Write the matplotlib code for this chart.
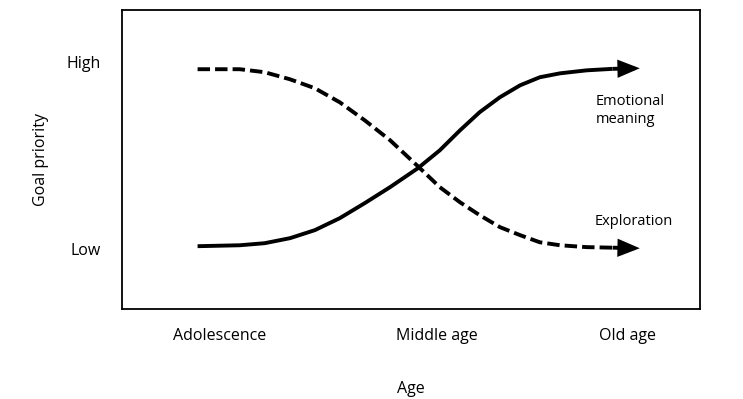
import matplotlib.pyplot as plt

plt.rcParams['font.family'] = ['Open Sans', 'DejaVu Sans']

# conceptual axes: x on a 0-10 lifespan scale, y with Low=0 and High=1
age_labels = ["Adolescence", "Middle age", "Old age"]
age_ticks = [1.7, 5.45, 8.75]
priority_labels = ["Low", "High"]
priority_ticks = [0, 1]

x_pts = [1.31, 2.04, 2.47, 2.91, 3.34, 3.77, 4.20, 4.64, 5.12, 5.50,
         5.85, 6.19, 6.54, 6.89, 7.23, 7.58, 8.04, 8.49, 8.96]
emotional = [0.016, 0.021, 0.032, 0.059, 0.102, 0.166, 0.246, 0.332, 0.433, 0.529,
             0.636, 0.733, 0.813, 0.877, 0.920, 0.941, 0.957, 0.965, 0.968]
exploration = [0.963, 0.963, 0.947, 0.909, 0.861, 0.786, 0.690, 0.583, 0.444, 0.332,
               0.251, 0.182, 0.118, 0.075, 0.037, 0.021, 0.011, 0.008, 0.005]

fig = plt.figure(figsize=(7.43, 3.99), dpi=100)
ax = fig.add_axes([0.164, 0.2256, 0.778, 0.7494])

lw = 2.8
ax.plot(x_pts[:-1], emotional[:-1], color='black', lw=lw,
        solid_capstyle='butt', solid_joinstyle='round')
ax.plot(x_pts[:-1], exploration[:-1], color='black', lw=lw, dashes=(3.2, 1.3),
        dash_capstyle='butt', dash_joinstyle='round')
# last segment with the arrow head
for ys in (emotional, exploration):
    ax.annotate('', xy=(x_pts[-1], ys[-1]), xytext=(x_pts[-2], ys[-2]),
                arrowprops=dict(arrowstyle='-|>,head_length=1.1,head_width=0.45',
                                color='black', lw=lw, shrinkA=0, shrinkB=0,
                                capstyle='butt', joinstyle='miter'))

ax.text(8.20, 0.770, "Emotional", fontsize=10.5, ha='left', va='baseline')
ax.text(8.20, 0.674, "meaning", fontsize=10.5, ha='left', va='baseline')
ax.text(8.18, 0.128, "Exploration", fontsize=10.5, ha='left', va='baseline')

ax.set_xlim(0, 10)
ax.set_ylim(-0.32, 1.28)
ax.set_xticks(age_ticks)
ax.set_xticklabels(age_labels)
ax.set_yticks(priority_ticks)
ax.set_yticklabels(priority_labels)
ax.tick_params(length=0, labelsize=11.5)
ax.tick_params(axis='x', pad=14)
ax.tick_params(axis='y', pad=15)
ax.set_xlabel("Age", fontsize=11.5, labelpad=26)
ax.set_ylabel("Goal priority", fontsize=11.5, labelpad=13)
for s in ax.spines.values():
    s.set_linewidth(1.3)

fig.savefig("out.png", dpi=100)
